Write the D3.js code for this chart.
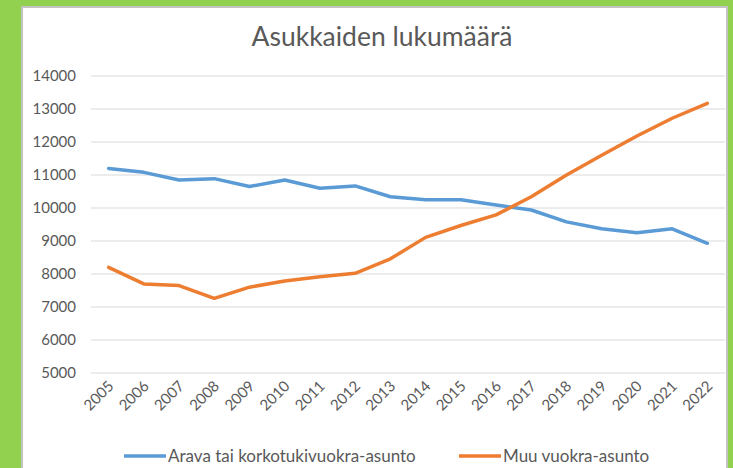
<!DOCTYPE html>
<head>
  <meta charset="utf-8">
  <script src="https://d3js.org/d3.v7.min.js"></script>
  <style>
    body { margin:0; background:#92d050; }
    svg { display:block; }
    text { font-family: Lato, "Open Sans", sans-serif; fill:#595959; }
  </style>
</head>

<body>
  <script>
    var years = [2005, 2006, 2007, 2008, 2009, 2010, 2011, 2012, 2013,
                 2014, 2015, 2016, 2017, 2018, 2019, 2020, 2021, 2022];
    var arava = [11200, 11080, 10850, 10890, 10650, 10850, 10600, 10670, 10340,
                 10250, 10250, 10090, 9940, 9580, 9370, 9250, 9370, 8930];
    var muu = [8200, 7700, 7650, 7260, 7600, 7790, 7920, 8020, 8460,
               9110, 9470, 9790, 10340, 11000, 11600, 12180, 12720, 13170];
    var yTicks = [5000, 6000, 7000, 8000, 9000, 10000, 11000, 12000, 13000, 14000];
    var seriesNames = ["Arava tai korkotukivuokra-asunto", "Muu vuokra-asunto"];
    var colors = ["#5b9bd5", "#ed7d31"];

    var width = 733, height = 468;

    var svg = d3.select("body").append("svg")
        .attr("width", width)
        .attr("height", height);

    // white chart panel inside the green frame
    svg.append("rect")
        .attr("x", 22).attr("y", 7)
        .attr("width", 705).attr("height", 470)
        .attr("fill", "#fff")
        .attr("stroke", "#c3c3c3")
        .attr("stroke-width", 2);

    var x = d3.scalePoint().domain(years).range([91, 725]).padding(0.5);
    var y = d3.scaleLinear().domain([5000, 14000]).range([373, 76]);

    svg.append("text")
        .attr("x", 382).attr("y", 45.5)
        .attr("text-anchor", "middle")
        .attr("textLength", 261)
        .attr("lengthAdjust", "spacingAndGlyphs")
        .style("font-size", "27px")
        .text("Asukkaiden lukumäärä");

    // gridlines
    svg.selectAll("line.grid").data(yTicks)
      .enter().append("line")
        .attr("class", "grid")
        .attr("x1", 91).attr("x2", 725)
        .attr("y1", function(d){ return y(d); })
        .attr("y2", function(d){ return y(d); })
        .attr("stroke", "#d9d9d9")
        .attr("stroke-width", 1);

    // y labels
    svg.selectAll("text.ylab").data(yTicks)
      .enter().append("text")
        .attr("class", "ylab")
        .attr("x", 76)
        .attr("y", function(d){ return y(d) + 5; })
        .attr("text-anchor", "end")
        .style("font-size", "15px")
        .text(function(d){ return d; });

    // x labels, rotated
    svg.selectAll("text.xlab").data(years)
      .enter().append("text")
        .attr("class", "xlab")
        .attr("text-anchor", "end")
        .attr("transform", function(d){
          return "translate(" + (x(d) + 6) + ",387) rotate(-45)";
        })
        .style("font-size", "15px")
        .text(function(d){ return d; });

    var line = d3.line()
        .x(function(d, i){ return x(years[i]); })
        .y(function(d){ return y(d); });

    [arava, muu].forEach(function(vals, k) {
      svg.append("path")
          .datum(vals)
          .attr("d", line)
          .attr("fill", "none")
          .attr("stroke", colors[k])
          .attr("stroke-width", 3.5)
          .attr("stroke-linejoin", "round")
          .attr("stroke-linecap", "round");
    });

    // legend
    var legX = [124, 459];
    seriesNames.forEach(function(name, k) {
      svg.append("line")
          .attr("x1", legX[k]).attr("x2", legX[k] + 42)
          .attr("y1", 456).attr("y2", 456)
          .attr("stroke", colors[k])
          .attr("stroke-width", 3.5);
      svg.append("text")
          .attr("x", legX[k] + 44)
          .attr("y", 462)
          .style("font-size", "17px")
          .text(name);
    });
  </script>
</body>

</html>
